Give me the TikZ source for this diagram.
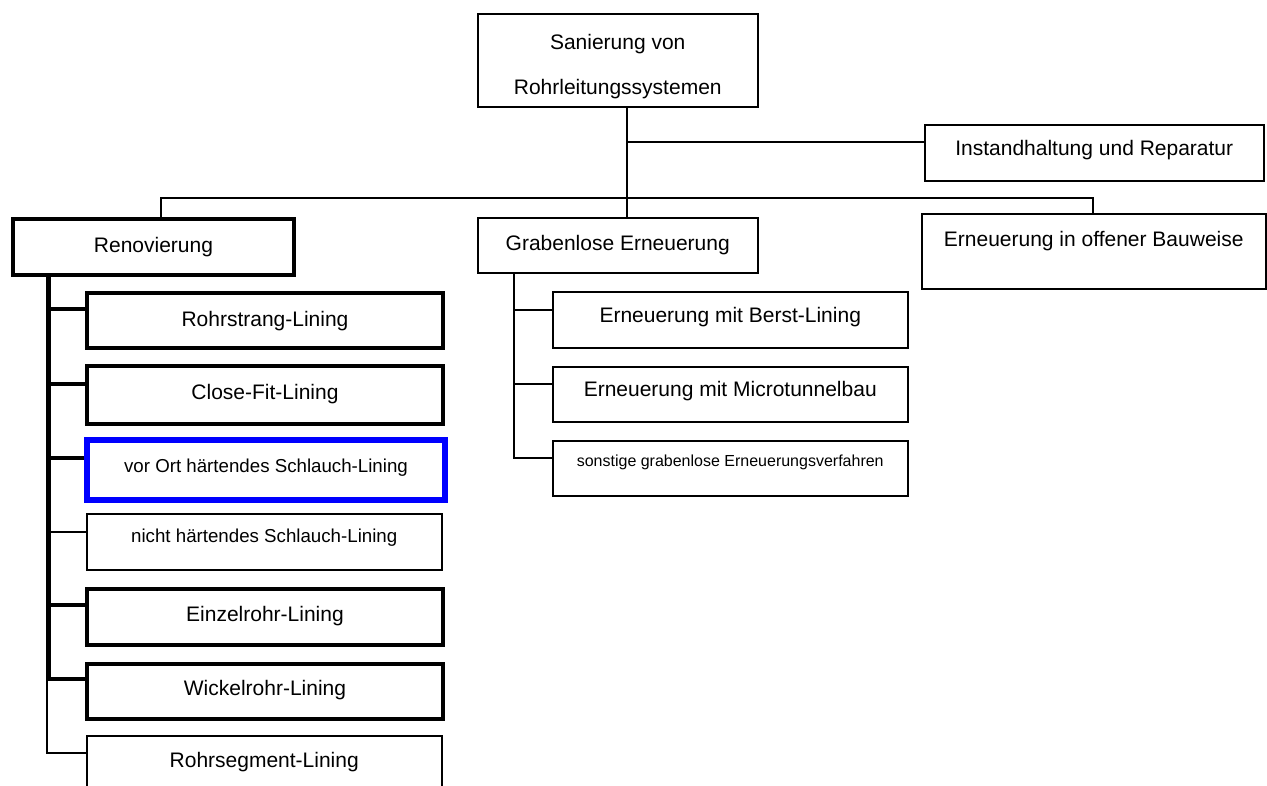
\documentclass[tikz,border=0pt]{standalone}
\usepackage{fontspec}
\setmainfont{Liberation Sans}
\definecolor{pureblue}{RGB}{0,0,255}
\begin{document}
\begin{tikzpicture}[x=1pt,y=-1pt,
  box/.style={draw, line width=1.5pt, fill=white, anchor=north west, inner sep=0pt, align=center, font=\fontsize{21}{25}\selectfont},
  thickbox/.style={box, line width=4pt},
  bluebox/.style={box, line width=6pt, draw=pureblue},
  medfont/.style={font=\fontsize{18.7}{22}\selectfont},
  smallfont/.style={font=\fontsize{16}{19}\selectfont},
  conn/.style={line width=1.5pt},
  thickconn/.style={line width=4pt}]
\useasboundingbox (0,0) rectangle (1267,785);
\clip (0,0) rectangle (1267,785);

% top level
\node[box, minimum width=280pt, minimum height=93pt] (top) at (477,13)
  {Sanierung von\\[20pt]Rohrleitungssystemen\\[-34pt]\mbox{}};
\node[box, minimum width=339pt, text height=31pt, text depth=25pt] (instand) at (924,124)
  {Instandhaltung und Reparatur};

% second level
\node[thickbox, minimum width=281pt, text height=33pt, text depth=23pt] (renov) at (11,217) {Renovierung};
\node[box, minimum width=280pt, text height=33pt, text depth=22pt] (grab) at (477,217) {Grabenlose Erneuerung};
\node[box, minimum width=344pt, text height=33pt, text depth=42pt] (offen) at (921,213) {Erneuerung in offener Bauweise};

% Renovierung children
\node[thickbox, minimum width=356pt, text height=33pt, text depth=22pt] (rohrstrang) at (85,291) {Rohrstrang-Lining};
\node[thickbox, minimum width=356pt, text height=33pt, text depth=25pt] (closefit) at (85,364) {Close-Fit-Lining};
\node[bluebox, medfont, minimum width=358pt, text height=32pt, text depth=28pt] (vorort) at (84,437) {vor Ort härtendes Schlauch-Lining};
\node[box, medfont, minimum width=355pt, text height=28.5pt, text depth=27.5pt] (nicht) at (86,513) {nicht härtendes Schlauch-Lining};
\node[thickbox, minimum width=356pt, text height=32pt, text depth=24pt] (einzel) at (85,587) {Einzelrohr-Lining};
\node[thickbox, minimum width=356pt, text height=31pt, text depth=24pt] (wickel) at (85,662) {Wickelrohr-Lining};
\node[box, minimum width=355pt, text height=32pt, text depth=28pt] (segment) at (86,735) {Rohrsegment-Lining};

% Grabenlose children
\node[box, minimum width=355pt, text height=31pt, text depth=25pt] (berst) at (552,291) {Erneuerung mit Berst-Lining};
\node[box, minimum width=355pt, text height=30pt, text depth=25pt] (micro) at (552,366) {Erneuerung mit Microtunnelbau};
\node[box, smallfont, minimum width=355pt, text height=26pt, text depth=29pt] (sonst) at (552,440) {sonstige grabenlose Erneuerungsverfahren};

% junction coordinates
\coordinate (t1) at (627,142);
\coordinate (bl) at (161,198);
\coordinate (bm) at (627,198);
\coordinate (br) at (1093,198);
\coordinate (r1) at (49,309);
\coordinate (r2) at (49,384);
\coordinate (r3) at (49,458);
\coordinate (r4) at (49,532);
\coordinate (r5) at (49,605);
\coordinate (r6) at (49,679);
\coordinate (r7) at (47,753);
\coordinate (g1) at (514,310);
\coordinate (g2) at (514,384);
\coordinate (g3) at (514,458);

% connectors top level
\draw[conn] (top.south -| bm) -- (grab.north -| bm);
\draw[conn] (t1) -- (t1 -| instand.west);
\draw[conn] (renov.north -| bl) -- (bl) -- (br) -- (br |- offen.north);

% Renovierung connectors
\draw[conn] (renov.south -| r7) -- (r7) -- (r7 -| segment.west);
\draw[thickconn] (renov.south -| r6) -- (r6) -- (r6 -| wickel.west);
\draw[thickconn] (r1) -- (r1 -| rohrstrang.west);
\draw[thickconn] (r2) -- (r2 -| closefit.west);
\draw[thickconn] (r3) -- (r3 -| vorort.west);
\draw[conn] (r4) -- (r4 -| nicht.west);
\draw[thickconn] (r5) -- (r5 -| einzel.west);

% Grabenlose connectors
\draw[conn] (grab.south -| g3) -- (g3) -- (g3 -| sonst.west);
\draw[conn] (g1) -- (g1 -| berst.west);
\draw[conn] (g2) -- (g2 -| micro.west);
\end{tikzpicture}
\end{document}
